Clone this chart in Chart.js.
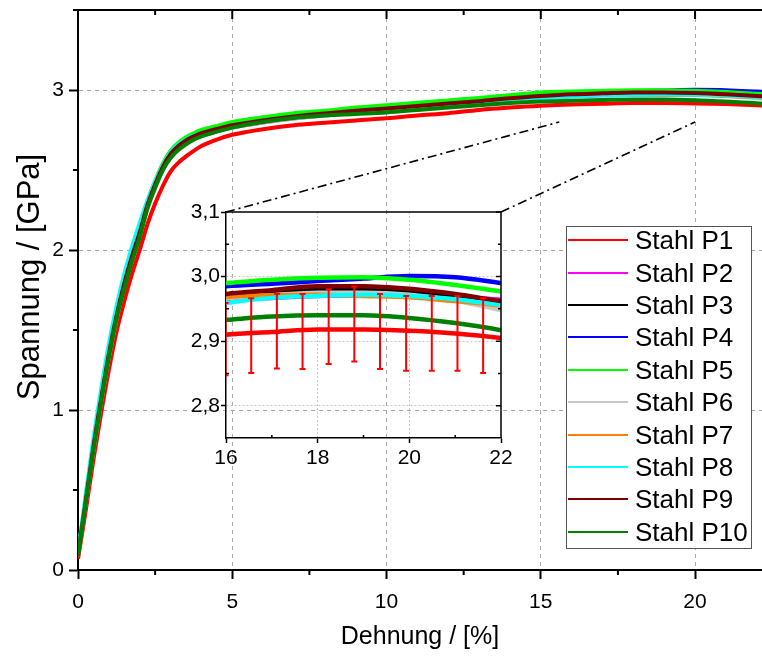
<!DOCTYPE html>
<html>
<head>
<meta charset="utf-8">
<script src="https://cdn.jsdelivr.net/npm/chart.js@4.4.1/dist/chart.umd.min.js"></script>
<style>
  html, body { margin: 0; padding: 0; background: #fff; }
  #wrap { position: relative; width: 762px; height: 658px; overflow: hidden; }
  #wrap canvas { position: absolute; left: 0; top: 0; }
  #legend {
    position: absolute; left: 566px; top: 226px; width: 184px; height: 321px;
    border: 1.5px solid #555; background: #fff;
    font-family: "Liberation Sans", Arial, sans-serif; font-size: 26px; color: #000;
  }
  .row { position: absolute; left: 0; height: 32px; display: flex; align-items: center; }
  .swatch { width: 60px; height: 2px; margin-left: 1px; }
  .lbl { margin-left: 7px; white-space: nowrap; line-height: 32px; }
</style>
</head>
<body>
<div id="wrap">
  <canvas id="main" width="762" height="658"></canvas>
  <canvas id="inset" width="762" height="658"></canvas>
  <div id="legend"></div>
</div>
<script>
// Strain grid (%) shared by all specimens
const strain = [0, 0.25, 0.5, 0.75, 1, 1.25, 1.5, 1.75, 2, 2.25, 2.5, 2.75, 3, 3.25, 3.5, 3.75, 4, 4.5,
                5, 6, 7, 8, 9, 10, 11, 12, 13, 14, 15, 16, 17, 18, 19, 20, 21, 22, 22.2];

// Stress (GPa) per specimen
const stahlP1  = [0.07,0.37,0.69,0.98,1.25,1.49,1.68,1.85,2.00,2.16,2.29,2.40,2.49,2.545,2.585,2.62,2.65,2.69,2.72,2.755,2.78,2.795,2.81,2.823,2.84,2.855,2.875,2.89,2.902,2.91,2.914,2.918,2.918,2.916,2.912,2.905,2.903];
const stahlP2  = [0.09,0.42,0.75,1.05,1.33,1.57,1.77,1.94,2.09,2.26,2.39,2.50,2.58,2.635,2.67,2.695,2.715,2.742,2.766,2.797,2.822,2.84,2.857,2.872,2.887,2.902,2.917,2.935,2.95,2.962,2.967,2.97,2.971,2.97,2.968,2.964,2.962];
const stahlP3  = [0.09,0.43,0.76,1.06,1.34,1.58,1.78,1.95,2.10,2.27,2.40,2.51,2.59,2.645,2.68,2.705,2.725,2.752,2.776,2.806,2.831,2.849,2.866,2.881,2.896,2.911,2.926,2.944,2.958,2.97,2.976,2.98,2.98,2.977,2.97,2.96,2.958];
const stahlP4  = [0.10,0.44,0.78,1.09,1.37,1.61,1.81,1.98,2.13,2.29,2.42,2.53,2.61,2.66,2.695,2.72,2.74,2.766,2.79,2.822,2.847,2.864,2.882,2.897,2.912,2.927,2.943,2.96,2.975,2.985,2.989,2.993,2.997,3.001,2.999,2.99,2.988];
const stahlP5  = [0.10,0.45,0.79,1.10,1.38,1.62,1.82,1.99,2.14,2.30,2.43,2.54,2.62,2.67,2.705,2.73,2.75,2.775,2.80,2.83,2.855,2.87,2.89,2.905,2.92,2.935,2.95,2.968,2.985,2.99,2.995,2.998,2.999,2.995,2.987,2.977,2.975];
const stahlP6  = [0.09,0.42,0.75,1.05,1.33,1.57,1.77,1.94,2.09,2.26,2.39,2.50,2.58,2.635,2.67,2.695,2.715,2.742,2.766,2.797,2.822,2.84,2.857,2.872,2.887,2.902,2.918,2.937,2.953,2.966,2.971,2.975,2.975,2.972,2.963,2.948,2.945];
const stahlP7  = [0.09,0.43,0.76,1.06,1.34,1.58,1.78,1.95,2.10,2.27,2.40,2.51,2.59,2.64,2.675,2.70,2.72,2.748,2.772,2.803,2.828,2.846,2.862,2.877,2.892,2.907,2.922,2.94,2.955,2.968,2.971,2.972,2.97,2.968,2.962,2.955,2.953];
const stahlP8  = [0.10,0.47,0.82,1.13,1.41,1.65,1.85,2.02,2.17,2.31,2.43,2.53,2.61,2.66,2.69,2.715,2.73,2.755,2.775,2.805,2.83,2.848,2.862,2.875,2.89,2.905,2.92,2.935,2.947,2.959,2.967,2.97,2.972,2.97,2.965,2.956,2.954];
const stahlP9  = [0.09,0.43,0.77,1.07,1.35,1.59,1.79,1.96,2.11,2.28,2.41,2.52,2.60,2.65,2.685,2.71,2.73,2.757,2.78,2.81,2.835,2.853,2.87,2.885,2.90,2.915,2.93,2.948,2.962,2.973,2.979,2.985,2.985,2.981,2.973,2.962,2.96];
const stahlP10 = [0.09,0.42,0.75,1.05,1.33,1.57,1.76,1.93,2.08,2.26,2.39,2.50,2.575,2.625,2.66,2.69,2.71,2.74,2.765,2.80,2.825,2.84,2.85,2.86,2.875,2.89,2.905,2.918,2.928,2.933,2.938,2.94,2.94,2.936,2.928,2.917,2.914];

const seriesNames  = ['Stahl P1','Stahl P2','Stahl P3','Stahl P4','Stahl P5','Stahl P6','Stahl P7','Stahl P8','Stahl P9','Stahl P10'];
const seriesValues = [stahlP1, stahlP2, stahlP3, stahlP4, stahlP5, stahlP6, stahlP7, stahlP8, stahlP9, stahlP10];
const seriesColors = ['#ff0000','#ff00ff','#000000','#0000ff','#00ff00','#c8c8c8','#ff8000','#00ffff','#800000','#008000'];

// Error bars on Stahl P1 (mean ± deviation)
const errStrain = [15.99, 16.55, 17.11, 17.67, 18.24, 18.80, 19.36, 19.93, 20.49, 21.05, 21.61];
const errMean   = [2.903, 2.9085, 2.9155, 2.915, 2.9225, 2.9265, 2.915, 2.912, 2.912, 2.912, 2.9085];
const errDev    = [0.056, 0.058, 0.058, 0.058, 0.058, 0.058, 0.058, 0.058, 0.058, 0.058, 0.058];

// Axis ticks
const mainXTicks  = [0, 5, 10, 15, 20];
const mainXMinor  = [2.5, 7.5, 12.5, 17.5, 22.5];
const mainYTicks  = [0, 1, 2, 3];
const mainYMinor  = [0.5, 1.5, 2.5, 3.5];
const insetXTicks = [16, 18, 20, 22];
const insetXMinor = [17, 19, 21];
const insetYTicks = [2.8, 2.9, 3.0, 3.1];
const insetYMinor = [2.85, 2.95, 3.05];

// Zoom window shown by the inset, in main-axis units
const zoomFrom = [15.6, 20];
const zoomLevel = 2.8;

const yTitle = 'Spannung / [GPa]';

const FONT = '"Liberation Sans", Arial, sans-serif';
Chart.defaults.font.family = FONT;
Chart.defaults.color = '#000';

function makeDatasets(width) {
  return seriesNames.map((name, i) => ({
    label: name,
    data: strain.map((x, k) => ({ x: x, y: seriesValues[i][k] })),
    borderColor: seriesColors[i],
    backgroundColor: seriesColors[i],
    borderWidth: width,
    pointRadius: 0,
    cubicInterpolationMode: 'monotone',
    fill: false,
    order: seriesNames.length - i
  }));
}

function tickMarks(ctx, pts, color, width) {
  ctx.save();
  ctx.strokeStyle = color;
  ctx.lineWidth = width;
  ctx.beginPath();
  pts.forEach(p => { ctx.moveTo(p[0], p[1]); ctx.lineTo(p[2], p[3]); });
  ctx.stroke();
  ctx.restore();
}

// keep the plot area free of label overflow padding
function noPadH(s) { s.paddingLeft = 0; s.paddingRight = 0; }
function noPadV(s) { s.paddingTop = 0; s.paddingBottom = 0; }

const mainFrame = {
  id: 'mainFrame',
  afterDraw(chart) {
    const { ctx, chartArea: a, scales: { x, y } } = chart;
    const pts = [];
    // top frame line with inward ticks
    ctx.save();
    ctx.strokeStyle = '#000'; ctx.lineWidth = 2;
    ctx.beginPath(); ctx.moveTo(a.left - 1, a.top); ctx.lineTo(a.right, a.top); ctx.stroke();
    ctx.restore();
    mainXTicks.forEach(v => { const px = x.getPixelForValue(v); pts.push([px, a.top, px, a.top + 9]); });
    mainXMinor.forEach(v => {
      const px = x.getPixelForValue(v);
      pts.push([px, a.top, px, a.top + 5]);
      pts.push([px, a.bottom, px, a.bottom + 5]);
    });
    mainYMinor.forEach(v => { const py = y.getPixelForValue(v); pts.push([a.left, py, a.left - 5, py]); });
    tickMarks(ctx, pts, '#000', 2);

    // vertical axis title
    ctx.save();
    ctx.translate(30, 277);
    ctx.rotate(-Math.PI / 2);
    ctx.font = '31px ' + FONT;
    ctx.fillStyle = '#000';
    ctx.textAlign = 'center';
    ctx.textBaseline = 'middle';
    ctx.fillText(yTitle, 0, 0);
    ctx.restore();
  }
};

const mainChart = new Chart(document.getElementById('main'), {
  type: 'line',
  data: { datasets: makeDatasets(4) },
  options: {
    responsive: false, animation: false, devicePixelRatio: 1,
    parsing: false,
    layout: { padding: { top: 10, right: 0, left: 0, bottom: 0 } },
    plugins: { legend: { display: false }, tooltip: { enabled: false } },
    scales: {
      x: {
        type: 'linear', min: 0, max: 22.17,
        afterBuildTicks: s => { s.ticks = mainXTicks.map(v => ({ value: v })); },
        afterFit: s => { s.height = 88; noPadH(s); },
        ticks: { font: { size: 21 }, color: '#000', padding: 11, maxRotation: 0, autoSkip: false },
        grid: {
          color: c => (c.tick && c.tick.value === 0) ? 'rgba(0,0,0,0)' : '#a8a8a8',
          lineWidth: 1, tickLength: 9, tickColor: '#000', tickWidth: 2, tickBorderDash: []
        },
        border: { display: true, color: '#000', width: 2, dash: [4, 4] },
        title: { display: true, text: 'Dehnung / [%]', font: { size: 25 }, color: '#000', padding: { top: 0, bottom: 6 } }
      },
      y: {
        type: 'linear', min: 0, max: 3.5,
        afterBuildTicks: s => { s.ticks = mainYTicks.map(v => ({ value: v })); },
        afterFit: s => { s.width = 78; noPadV(s); },
        ticks: { font: { size: 21 }, color: '#000', padding: 5 },
        grid: {
          color: c => (c.tick && c.tick.value === 0) ? 'rgba(0,0,0,0)' : '#a8a8a8',
          lineWidth: 1, tickLength: 9, tickColor: '#000', tickWidth: 2, tickBorderDash: []
        },
        border: { display: true, color: '#000', width: 2, dash: [4, 4] }
      }
    }
  },
  plugins: [mainFrame]
});

const insetFrame = {
  id: 'insetFrame',
  afterDatasetsDraw(chart) {
    const { ctx, chartArea: a, scales: { x, y } } = chart;
    // error bars of Stahl P1
    ctx.save();
    ctx.beginPath(); ctx.rect(a.left, a.top, a.right - a.left, a.bottom - a.top); ctx.clip();
    ctx.strokeStyle = '#ff0000'; ctx.lineWidth = 2;
    ctx.beginPath();
    errStrain.forEach((sx, i) => {
      const px = x.getPixelForValue(sx);
      const top = y.getPixelForValue(errMean[i] + errDev[i]);
      const bot = y.getPixelForValue(errMean[i] - errDev[i]);
      ctx.moveTo(px, top); ctx.lineTo(px, bot);
      ctx.moveTo(px - 3, top); ctx.lineTo(px + 3, top);
      ctx.moveTo(px - 3, bot); ctx.lineTo(px + 3, bot);
    });
    ctx.stroke();
    ctx.restore();
  },
  afterDraw(chart) {
    const { ctx, chartArea: a, scales: { x, y } } = chart;
    // closing frame (top and right)
    ctx.save();
    ctx.strokeStyle = '#000'; ctx.lineWidth = 1.5;
    ctx.beginPath();
    ctx.moveTo(a.left, a.top); ctx.lineTo(a.right, a.top); ctx.lineTo(a.right, a.bottom);
    ctx.stroke();
    ctx.restore();
    const pts = [];
    insetYMinor.forEach(v => {
      const py = y.getPixelForValue(v);
      pts.push([a.left, py, a.left + 3, py]);
      pts.push([a.right, py, a.right - 3, py]);
    });
    insetYTicks.forEach(v => { const py = y.getPixelForValue(v); pts.push([a.right, py, a.right - 5, py]); });
    insetXMinor.forEach(v => { const px = x.getPixelForValue(v); pts.push([px, a.bottom, px, a.bottom - 3]); });
    tickMarks(ctx, pts, '#000', 1.5);

    // dash-dot connectors to the zoomed region of the main chart
    const mx = mainChart.scales.x, my = mainChart.scales.y;
    ctx.save();
    ctx.strokeStyle = '#000'; ctx.lineWidth = 1.6;
    ctx.setLineDash([9, 4, 2, 4]);
    ctx.beginPath();
    ctx.moveTo(a.left, a.top); ctx.lineTo(mx.getPixelForValue(zoomFrom[0]), my.getPixelForValue(zoomLevel));
    ctx.moveTo(a.right, a.top); ctx.lineTo(mx.getPixelForValue(zoomFrom[1]), my.getPixelForValue(zoomLevel));
    ctx.stroke();
    ctx.restore();
  }
};

const insetChart = new Chart(document.getElementById('inset'), {
  type: 'line',
  data: { datasets: makeDatasets(4.5) },
  options: {
    responsive: false, animation: false, devicePixelRatio: 1,
    parsing: false,
    layout: { padding: { top: 212, right: 261, left: 0, bottom: 0 } },
    plugins: { legend: { display: false }, tooltip: { enabled: false } },
    scales: {
      x: {
        type: 'linear', min: 16, max: 22,
        afterBuildTicks: s => { s.ticks = insetXTicks.map(v => ({ value: v })); },
        afterFit: s => { s.height = 220; noPadH(s); },
        ticks: { font: { size: 21 }, color: '#000', padding: 3, maxRotation: 0, autoSkip: false },
        grid: {
          color: c => (c.tick && (c.tick.value === 16 || c.tick.value === 22)) ? 'rgba(0,0,0,0)' : '#c8c8c8',
          lineWidth: 1, tickLength: 5, tickColor: '#000', tickWidth: 1.5, tickBorderDash: []
        },
        border: { display: true, color: '#000', width: 1.5, dash: [2, 2] }
      },
      y: {
        type: 'linear', min: 2.75, max: 3.1,
        afterBuildTicks: s => { s.ticks = insetYTicks.map(v => ({ value: v })); },
        afterFit: s => { s.width = 226; noPadV(s); },
        ticks: {
          font: { size: 21 }, color: '#000', padding: 1,
          callback: v => v.toFixed(1).replace('.', ',')
        },
        grid: {
          color: c => (c.tick && c.tick.value === 3.1) ? 'rgba(0,0,0,0)' : '#c8c8c8',
          lineWidth: 1, tickLength: 5, tickColor: '#000', tickWidth: 1.5, tickBorderDash: []
        },
        border: { display: true, color: '#000', width: 1.5, dash: [2, 2] }
      }
    }
  },
  plugins: [insetFrame]
});

// Legend
const legend = document.getElementById('legend');
seriesNames.forEach((name, i) => {
  const row = document.createElement('div');
  row.className = 'row';
  row.style.top = (13.2 + 32.4 * i - 16) + 'px';
  const sw = document.createElement('div');
  sw.className = 'swatch';
  sw.style.background = seriesColors[i];
  const lb = document.createElement('span');
  lb.className = 'lbl';
  lb.textContent = name;
  row.appendChild(sw); row.appendChild(lb);
  legend.appendChild(row);
});
</script>
</body>
</html>
